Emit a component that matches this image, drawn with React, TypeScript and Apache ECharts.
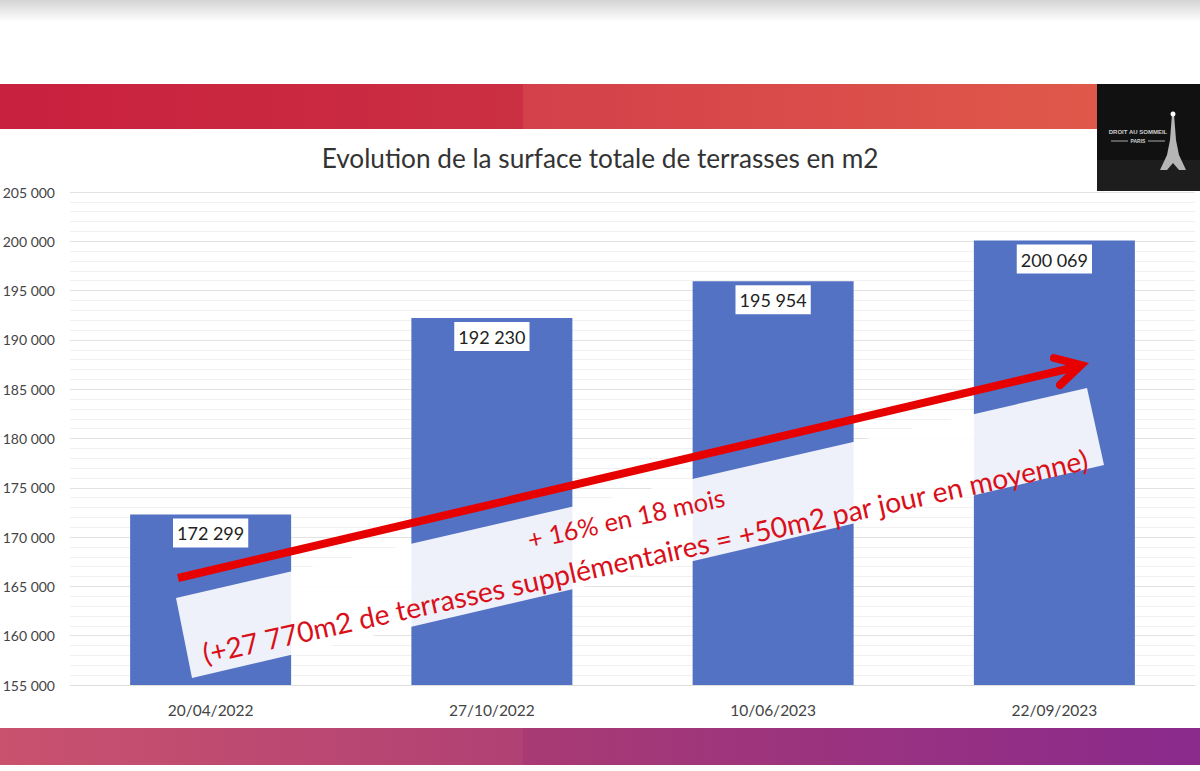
import React, { useEffect, useRef } from "react";
import * as echarts from "echarts";

const dates = ["20/04/2022", "27/10/2022", "10/06/2023", "22/09/2023"];
const surfaces = [172299, 192230, 195954, 200069];

const chartTitle = "Evolution de la surface totale de terrasses en m2";
const noteLine1 = "+ 16% en 18 mois";
const noteLine2 = "(+27 770m2 de terrasses supplémentaires = +50m2 par jour en moyenne)";
const logoLine1 = "DROIT AU SOMMEIL";
const logoLine2 = "PARIS";

const fmt = (v: number) => String(v).replace(/\B(?=(\d{3})+$)/g, " ");

const grad = (c0: string, c1: string) =>
	new echarts.graphic.LinearGradient(0, 0, 1, 0, [
		{ offset: 0, color: c0 },
		{ offset: 1, color: c1 },
	]);

const ROT = (12.4 * Math.PI) / 180;

const App = () => {
	const chartRef = useRef<HTMLDivElement>(null);

	useEffect(() => {
		if (!chartRef.current) return;
		const chart = echarts.init(chartRef.current, undefined, { renderer: "svg" });

		chart.setOption({
			animation: false,
			backgroundColor: "#ffffff",
			title: {
				text: chartTitle,
				left: 595,
				top: 140,
				textAlign: "center",
				textStyle: { fontFamily: "Lato", fontSize: 26.2, fontWeight: "normal", color: "#333333" },
			},
			grid: { left: 70, right: 5, top: 192, bottom: 86, outerBoundsMode: "none" },
			xAxis: {
				type: "category",
				data: dates,
				axisTick: { show: false },
				axisLine: { lineStyle: { color: "#dddddd" } },
				axisLabel: { fontFamily: "Lato", fontSize: 15.5, color: "#444444", margin: 17 },
			},
			yAxis: {
				type: "value",
				min: 155000,
				max: 205000,
				interval: 5000,
				axisLine: { show: false },
				axisTick: { show: false },
				axisLabel: { fontFamily: "Lato", fontSize: 14, color: "#444444", margin: 15, formatter: fmt },
				splitLine: { lineStyle: { color: "#e2e2e2", width: 1 } },
				minorTick: { show: false, splitNumber: 5 },
				minorSplitLine: { show: true, lineStyle: { color: "#f1f1f1", width: 1 } },
			},
			series: [
				{
					type: "bar",
					data: surfaces,
					barWidth: 161,
					itemStyle: { color: "#5472c4" },
					label: {
						show: true,
						position: "insideTop",
						distance: 4,
						formatter: (p: any) => fmt(p.value),
						fontFamily: "Lato",
						fontSize: 18,
						color: "#222222",
						backgroundColor: "#ffffff",
						padding: [6, 4, 5, 4],
					},
				},
			],
			graphic: [
				// top shadow
				{
					type: "rect",
					shape: { x: 0, y: 0, width: 1200, height: 22 },
					style: {
						fill: new echarts.graphic.LinearGradient(0, 0, 0, 1, [
							{ offset: 0, color: "#d4d4d4" },
							{ offset: 1, color: "#ffffff" },
						]),
					},
				},
				// top banner
				{ type: "rect", shape: { x: 0, y: 84, width: 523, height: 45 }, style: { fill: grad("#c8203f", "#cb2f42") } },
				{ type: "rect", shape: { x: 523, y: 84, width: 574, height: 45 }, style: { fill: grad("#d3404a", "#e0584a") } },
				// bottom banner
				{ type: "rect", shape: { x: 0, y: 728, width: 523, height: 37 }, style: { fill: grad("#c9526e", "#b04174") } },
				{ type: "rect", shape: { x: 523, y: 728, width: 677, height: 37 }, style: { fill: grad("#a83a74", "#8a2a8c") } },
				// logo
				{ type: "rect", shape: { x: 1097, y: 84, width: 103, height: 107 }, style: { fill: "#111111" } },
				{ type: "rect", shape: { x: 1097, y: 160, width: 103, height: 31 }, style: { fill: "#1d1d1d" } },
				{ type: "text", x: 1138, y: 132, style: { text: logoLine1, font: "bold 6px 'Liberation Sans'", fill: "#cfcfcf", align: "center", verticalAlign: "middle" } },
				{ type: "text", x: 1138, y: 141, style: { text: logoLine2, font: "bold 5px 'Liberation Sans'", fill: "#cfcfcf", align: "center", verticalAlign: "middle" } },
				{ type: "line", shape: { x1: 1111, y1: 141, x2: 1128, y2: 141 }, style: { stroke: "#aaaaaa", lineWidth: 1 } },
				{ type: "line", shape: { x1: 1148, y1: 141, x2: 1165, y2: 141 }, style: { stroke: "#aaaaaa", lineWidth: 1 } },
				{
					type: "polygon",
					shape: {
						points: [
							[1172, 114], [1174, 114], [1176, 140], [1179, 155], [1186, 170], [1179, 170],
							[1173, 163], [1167, 170], [1160, 170], [1167, 155], [1170, 140],
						],
					},
					style: { fill: "#b5b5b5" },
				},
				{ type: "circle", shape: { cx: 1173, cy: 114, r: 2.5 }, style: { fill: "#ffffff" } },
				// note box
				{
					type: "polygon",
					z: 20,
					shape: { points: [[176, 598], [1087, 388], [1104, 465], [192, 678]] },
					style: { fill: "rgba(255,255,255,0.9)" },
				},
				{
					type: "text",
					z: 21,
					x: 626,
					y: 518,
					rotation: ROT,
					style: { text: noteLine1, font: "25.5px Lato", fill: "#d9101a", align: "center", verticalAlign: "middle" },
				},
				{
					type: "text",
					z: 21,
					x: 645,
					y: 556,
					rotation: ROT,
					style: { text: noteLine2, font: "28.2px Lato", fill: "#d9101a", align: "center", verticalAlign: "middle" },
				},
				// arrow
				{
					type: "line",
					z: 22,
					shape: { x1: 178, y1: 578, x2: 1076, y2: 367 },
					style: { stroke: "#e60000", lineWidth: 8 },
				},
				{
					type: "polyline",
					z: 22,
					shape: { points: [[1054, 358], [1081, 365], [1060, 385]] },
					style: { stroke: "#e60000", lineWidth: 8, lineCap: "round", lineJoin: "miter", fill: "none" },
				},
			],
		});

		return () => chart.dispose();
	}, []);

	return (
		<div
			ref={chartRef}
			style={{ position: "absolute", left: 0, top: 0, width: 1200, height: 771 }}
		/>
	);
};

export default App;
